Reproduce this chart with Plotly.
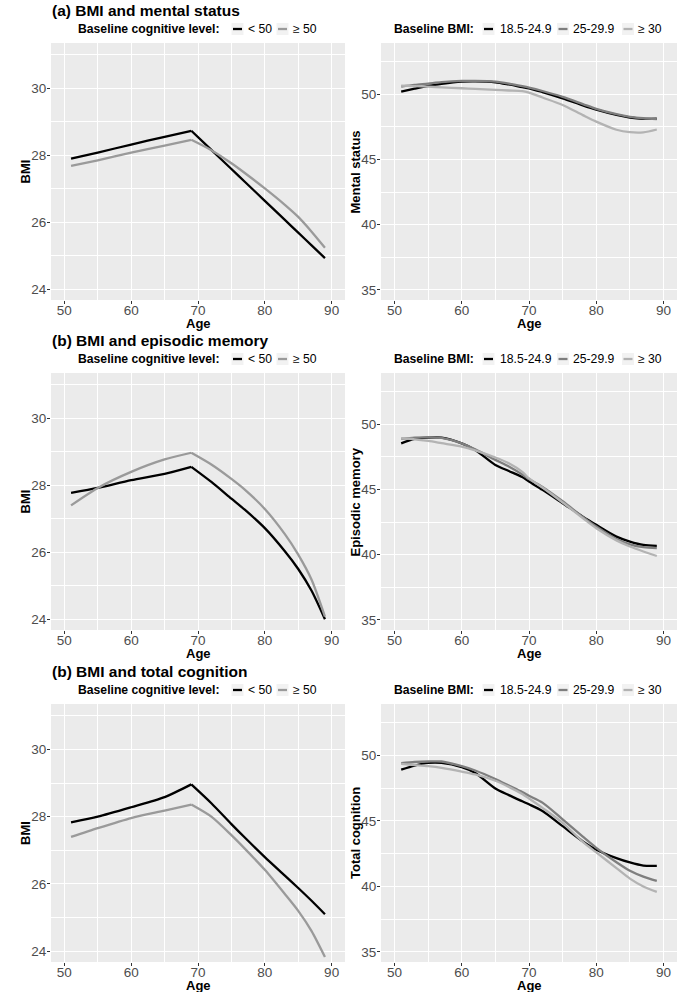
import plotly.graph_objects as go

# ---------------- data ----------------
age_left = [51, 55, 60, 65, 69, 72, 75, 77, 80, 83, 85, 87, 89]
bmi_ms_low = [27.90, 28.08, 28.32, 28.55, 28.73, 28.16, 27.59, 27.21, 26.64, 26.07, 25.69, 25.31, 24.93]
bmi_ms_high = [27.68, 27.85, 28.08, 28.29, 28.46, 28.15, 27.76, 27.47, 27.01, 26.52, 26.16, 25.72, 25.24]
bmi_em_low = [27.77, 27.92, 28.15, 28.34, 28.55, 28.10, 27.60, 27.27, 26.72, 26.03, 25.50, 24.85, 24.00]
bmi_em_high = [27.40, 27.92, 28.40, 28.77, 28.97, 28.62, 28.19, 27.87, 27.29, 26.54, 25.93, 25.18, 24.08]
bmi_tc_low = [27.83, 28.00, 28.28, 28.58, 28.96, 28.40, 27.78, 27.38, 26.80, 26.25, 25.88, 25.50, 25.10]
bmi_tc_high = [27.40, 27.66, 27.96, 28.18, 28.36, 28.00, 27.45, 27.05, 26.42, 25.70, 25.20, 24.60, 23.83]
peak_index = 4  # age 69: knot of the piecewise BMI trajectories

age_right = [51, 53, 55, 57, 60, 62, 65, 67, 69, 70, 72, 75, 78, 80, 83, 85, 87, 89]
ms_normal = [50.20, 50.43, 50.64, 50.80, 50.97, 50.99, 50.92, 50.75, 50.55, 50.46, 50.17, 49.69, 49.15, 48.82, 48.42, 48.22, 48.12, 48.13]
ms_over = [50.59, 50.72, 50.82, 50.93, 51.02, 51.03, 50.97, 50.82, 50.62, 50.51, 50.25, 49.80, 49.25, 48.88, 48.47, 48.27, 48.16, 48.10]
ms_obese = [50.66, 50.63, 50.59, 50.53, 50.46, 50.41, 50.33, 50.29, 50.24, 50.12, 49.75, 49.18, 48.40, 47.90, 47.28, 47.09, 47.08, 47.30]
em_normal = [48.54, 48.88, 48.98, 48.98, 48.54, 48.03, 46.88, 46.42, 45.95, 45.61, 44.97, 43.95, 42.92, 42.29, 41.39, 41.01, 40.75, 40.68]
em_over = [48.88, 48.97, 49.00, 48.95, 48.54, 48.08, 47.27, 46.76, 46.15, 45.80, 45.20, 44.10, 42.90, 42.16, 41.20, 40.80, 40.58, 40.50]
em_obese = [48.93, 48.85, 48.72, 48.55, 48.29, 48.00, 47.45, 47.01, 46.35, 45.85, 45.15, 44.00, 42.80, 42.03, 41.10, 40.63, 40.25, 39.90]
tc_normal = [48.92, 49.23, 49.43, 49.43, 49.10, 48.66, 47.48, 46.97, 46.50, 46.27, 45.76, 44.60, 43.44, 42.80, 42.16, 41.83, 41.59, 41.57]
tc_over = [49.41, 49.50, 49.54, 49.54, 49.18, 48.85, 48.20, 47.70, 47.20, 46.92, 46.40, 45.12, 43.80, 42.95, 41.85, 41.20, 40.75, 40.42]
tc_obese = [49.36, 49.27, 49.18, 49.05, 48.77, 48.55, 48.07, 47.60, 47.05, 46.71, 46.00, 44.86, 43.40, 42.60, 41.40, 40.60, 40.00, 39.58]

panel_titles = ["(a) BMI and mental status", "(b) BMI and episodic memory", "(b) BMI and total cognition"]
left_ytitle = "BMI"
right_ytitles = ["Mental status", "Episodic memory", "Total cognition"]
xtitle = "Age"
left_groups = ["< 50", "≥ 50"]
right_groups = ["18.5-24.9", "25-29.9", "≥ 30"]
left_legend_title = "Baseline cognitive level:"
right_legend_title = "Baseline BMI:"

# ---------------- style ----------------
W, H = 697, 992
FONT = "Liberation Sans, Arial, Helvetica, sans-serif"
left_colors = ["#000000", "#9A9A9A"]
right_colors = ["#000000", "#7E7E7E", "#B3B3B3"]
LW = 2.3

col_px = [(51, 345), (381, 677)]
row_px = [(43, 300), (373, 630), (704, 962)]


def X(px):
    return px / W


def Y(py):
    return 1 - py / H


left_data = [(bmi_ms_low, bmi_ms_high), (bmi_em_low, bmi_em_high), (bmi_tc_low, bmi_tc_high)]
right_data = [(ms_normal, ms_over, ms_obese), (em_normal, em_over, em_obese), (tc_normal, tc_over, tc_obese)]

fig = go.Figure()
layout = dict(
    width=W, height=H,
    margin=dict(l=0, r=0, t=0, b=0),
    paper_bgcolor="white", plot_bgcolor="#EBEBEB",
    showlegend=False,
    font=dict(family=FONT, color="#000000"),
)

annotations = []
shapes = []


def axis_common():
    return dict(
        showline=False, zeroline=False,
        ticks="outside", ticklen=3, tickwidth=1, tickcolor="#333333",
        tickfont=dict(size=13.5, color="#4D4D4D", family=FONT),
        showgrid=True, gridcolor="#FFFFFF", gridwidth=1.1,
        automargin=False,
    )


def text_ann(text, x, y, size, xanchor="left", angle=0):
    return dict(text=text, x=X(x), y=Y(y), xref="paper", yref="paper",
                xanchor=xanchor, yanchor="middle", showarrow=False, textangle=angle,
                borderpad=0, font=dict(size=size, color="#000000", family=FONT))


idx = 0
for r in range(3):
    for c in range(2):
        idx += 1
        xa = "xaxis" if idx == 1 else f"xaxis{idx}"
        ya = "yaxis" if idx == 1 else f"yaxis{idx}"
        xr = "x" if idx == 1 else f"x{idx}"
        yr = "y" if idx == 1 else f"y{idx}"
        x0, x1 = col_px[c]
        y0, y1 = row_px[r]
        xd = axis_common()
        xd.update(domain=[X(x0), X(x1)], range=[48, 92], tick0=50, dtick=10,
                  minor=dict(tick0=45, dtick=5, showgrid=True, gridcolor="#FFFFFF", gridwidth=0.5, ticks=""),
                  anchor=yr, ticklabelstandoff=-5)
        yd = axis_common()
        if c == 0:
            yd.update(range=[23.68, 31.35], tick0=24, dtick=2,
                      minor=dict(tick0=23, dtick=1, showgrid=True, gridcolor="#FFFFFF", gridwidth=0.5, ticks=""))
        else:
            yd.update(range=[34.23, 53.93], tick0=35, dtick=5,
                      minor=dict(tick0=32.5, dtick=2.5, showgrid=True, gridcolor="#FFFFFF", gridwidth=0.5, ticks=""))
        yd.update(domain=[Y(y1), Y(y0)], anchor=xr, ticklabelstandoff=-2)
        layout[xa] = xd
        layout[ya] = yd

        # axis titles
        annotations.append(text_ann(f"<b>{xtitle}</b>", (x0 + x1) / 2, y1 + 23, 13, xanchor="center"))
        ytxt = left_ytitle if c == 0 else right_ytitles[r]
        ytx = 25 if c == 0 else 355
        annotations.append(text_ann(f"<b>{ytxt}</b>", ytx, (y0 + y1) / 2, 13, xanchor="center", angle=-90))

        if c == 0:
            for k, series in enumerate(left_data[r]):
                # piecewise trajectory: before and after the knot at age 69
                for part in (slice(0, peak_index + 1), slice(peak_index, None)):
                    fig.add_trace(go.Scatter(x=age_left[part], y=series[part], mode="lines",
                                             name=left_groups[k],
                                             line=dict(color=left_colors[k], width=LW, shape="spline", smoothing=0.7),
                                             xaxis=xr, yaxis=yr))
        else:
            for k, series in enumerate(right_data[r]):
                fig.add_trace(go.Scatter(x=age_right, y=series, mode="lines", name=right_groups[k],
                                         line=dict(color=right_colors[k], width=LW, shape="spline", smoothing=0.8),
                                         xaxis=xr, yaxis=yr))

    # panel title
    annotations.append(text_ann(f"<b>{panel_titles[r]}</b>", 51, row_px[r][0] - 33, 15.5))
    ly = row_px[r][0] - 14
    # left legend
    annotations.append(text_ann(f"<b>{left_legend_title}</b>", 77, ly, 12.2))
    for k, (kc, lx) in enumerate([(237.5, 247), (282.5, 292)]):
        shapes.append(dict(type="rect", xref="paper", yref="paper", x0=X(kc - 6), x1=X(kc + 6),
                           y0=Y(ly + 6), y1=Y(ly - 6), fillcolor="#F2F2F2", line=dict(width=0), layer="above"))
        shapes.append(dict(type="line", xref="paper", yref="paper", x0=X(kc - 4.5), x1=X(kc + 4.5),
                           y0=Y(ly), y1=Y(ly), line=dict(color=left_colors[k], width=LW), layer="above"))
        annotations.append(text_ann(left_groups[k], lx, ly, 12.2))
    # right legend
    annotations.append(text_ann(f"<b>{right_legend_title}</b>", 393, ly, 12.2))
    for k, (kc, lx) in enumerate([(488.5, 498.5), (563, 572), (628, 636.5)]):
        shapes.append(dict(type="rect", xref="paper", yref="paper", x0=X(kc - 6), x1=X(kc + 6),
                           y0=Y(ly + 6), y1=Y(ly - 6), fillcolor="#F2F2F2", line=dict(width=0), layer="above"))
        shapes.append(dict(type="line", xref="paper", yref="paper", x0=X(kc - 4.5), x1=X(kc + 4.5),
                           y0=Y(ly), y1=Y(ly), line=dict(color=right_colors[k], width=LW), layer="above"))
        annotations.append(text_ann(right_groups[k], lx, ly, 12.2))

layout["annotations"] = annotations
layout["shapes"] = shapes
fig.update_layout(**layout)
fig.write_html("out.html", post_script="document.body.style.margin='0';",
               config={"displayModeBar": False})
